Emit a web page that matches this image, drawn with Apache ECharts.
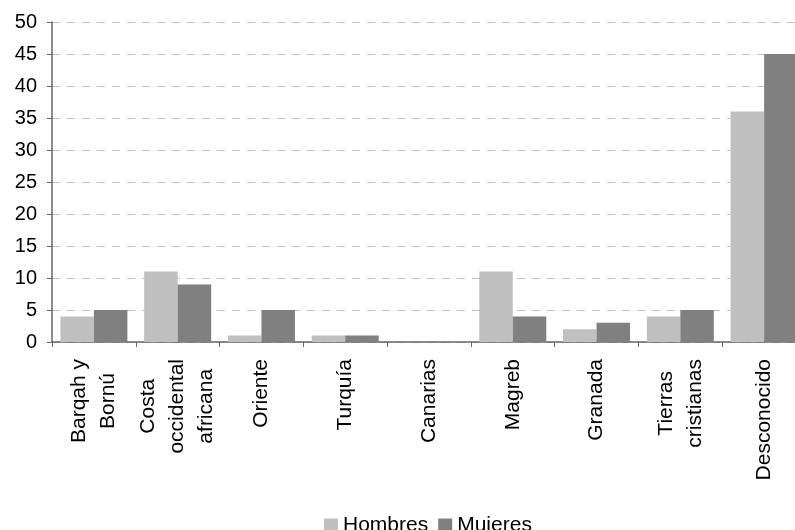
<!DOCTYPE html>
<html>
<head>
<meta charset="utf-8">
<script src="https://cdn.jsdelivr.net/npm/echarts@6/dist/echarts.min.js"></script>
<style>
  html,body{margin:0;padding:0;background:#fff;overflow:hidden;}
  #main{width:810px;height:530px;}
</style>
</head>
<body>
<div id="main"></div>
<script>
  // categorías (saltos de línea como en el original)
  var categorias = ['Barqah y\nBornú', 'Costa\noccidental\nafricana', 'Oriente', 'Turquía', 'Canarias', 'Magreb', 'Granada', 'Tierras\ncristianas', 'Desconocido'];
  var hombres = [4, 11, 1, 1, 0, 11, 2, 4, 36];
  var mujeres = [5, 9, 5, 1, 0, 4, 3, 5, 45];
  var yTicks = { min: 0, max: 50, step: 5 };

  var fuente = '"Liberation Sans", Arial, sans-serif';
  var myChart = echarts.init(document.getElementById('main'));

  myChart.setOption({
    animation: false,
    color: ['#c0c0c0', '#808080'],
    grid: {
      left: 52,
      top: 22,
      width: 754,
      height: 320
    },
    legend: {
      left: 319,
      top: 510,
      itemWidth: 14,
      itemHeight: 14,
      itemGap: 10,
      icon: 'rect',
      textStyle: { color: '#000', fontSize: 21, fontFamily: fuente },
      data: ['Hombres', 'Mujeres']
    },
    xAxis: {
      type: 'category',
      data: categorias,
      axisLine: { lineStyle: { color: '#666', width: 1.5 } },
      axisTick: { show: true, length: 5, lineStyle: { color: '#666' } },
      axisLabel: {
        rotate: 90,
        margin: 17,
        interval: 0,
        color: '#000',
        fontSize: 21,
        fontFamily: fuente,
        formatter: function (v) {
          // cada línea centrada dentro del bloque
          return v.split('\n').map(function (l) { return '{c|' + l + '}'; }).join('\n');
        },
        rich: {
          c: { align: 'center', fontSize: 21, lineHeight: 29, fontFamily: fuente, color: '#000' }
        }
      }
    },
    yAxis: {
      type: 'value',
      min: yTicks.min,
      max: yTicks.max,
      interval: yTicks.step,
      axisLine: { show: true, lineStyle: { color: '#666', width: 1.5 } },
      axisTick: { show: true, length: 5, lineStyle: { color: '#666' } },
      axisLabel: { color: '#000', fontSize: 20, fontFamily: fuente, margin: 15 },
      splitLine: { show: true, lineStyle: { color: '#c0c0c0', type: [8, 7], width: 1 } }
    },
    series: [
      {
        name: 'Hombres',
        type: 'bar',
        barGap: '0%',
        barCategoryGap: '20%',
        data: hombres
      },
      {
        name: 'Mujeres',
        type: 'bar',
        barGap: '0%',
        barCategoryGap: '20%',
        data: mujeres
      }
    ]
  });
</script>
</body>
</html>
